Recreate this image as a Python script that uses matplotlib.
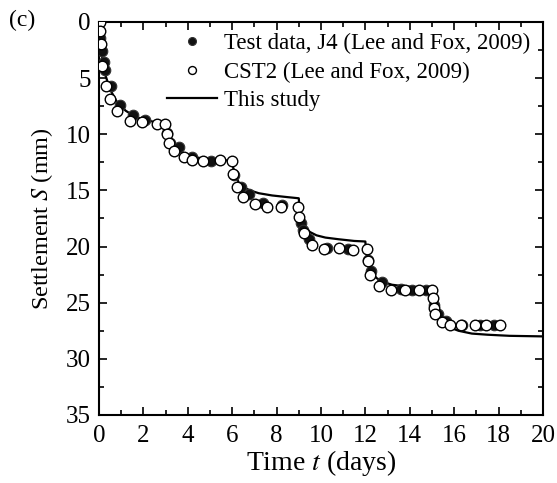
import numpy as np
import matplotlib
matplotlib.use("Agg")
import matplotlib.pyplot as plt
from matplotlib.ticker import MultipleLocator

plt.rcParams["font.family"] = ["Liberation Serif", "DejaVu Serif"]
plt.rcParams["mathtext.fontset"] = "stix"

# Test data, J4 (filled)
j4_t = [0.05, 0.13, 0.24, 0.29, 0.53, 0.96, 1.52, 2.08, 3.05, 3.2, 3.6, 4.17,
        5.05, 6.1, 6.4, 6.74, 7.38, 8.26, 9.11, 9.17, 9.46, 10.27, 11.2, 12.11,
        12.24, 12.75, 13.6, 14.1, 14.72, 15.08, 15.27, 15.64, 16.36, 17.16, 17.8]
j4_s = [1.4, 2.6, 3.6, 4.3, 5.7, 7.4, 8.3, 8.7, 9.9, 10.8, 11.1, 12.0,
        12.4, 13.65, 14.7, 15.3, 16.15, 16.3, 17.9, 18.5, 19.35, 20.15, 20.2, 21.2,
        22.2, 23.2, 23.8, 23.85, 23.85, 25.2, 26.0, 26.6, 26.95, 26.95, 27.0]

# CST2 (open)
cst_t = [0.05, 0.05, 0.08, 0.13, 0.32, 0.51, 0.83, 1.4, 1.92, 2.61, 2.97, 3.05,
         3.16, 3.4, 3.82, 4.17, 4.68, 5.45, 5.98, 6.06, 6.22, 6.5, 7.03, 7.57,
         8.18, 8.98, 9.03, 9.25, 9.59, 10.14, 10.83, 11.44, 12.07, 12.14, 12.19,
         12.6, 13.15, 13.8, 14.4, 15.0, 15.03, 15.08, 15.15, 15.45, 15.8, 16.3,
         16.95, 17.43, 18.05]
cst_s = [0.0, 0.8, 2.0, 3.9, 5.7, 6.9, 7.9, 8.8, 8.9, 9.1, 9.1, 9.95,
         10.8, 11.5, 12.0, 12.3, 12.4, 12.3, 12.4, 13.5, 14.7, 15.6, 16.2, 16.45,
         16.45, 16.5, 17.4, 18.8, 19.85, 20.2, 20.15, 20.35, 20.2, 21.3, 22.5,
         23.5, 23.9, 23.9, 23.9, 23.85, 24.6, 25.5, 26.0, 26.7, 26.95, 26.95,
         26.95, 26.95, 26.95]

# This study (model)
model_t = [0.0, 0.05, 0.1, 0.2, 0.3, 0.5, 0.8, 1.2, 1.6, 2.0, 2.5, 3.0,
           3.05, 3.15, 3.3, 3.5, 3.8, 4.2, 4.8, 5.5, 6.0,
           6.05, 6.15, 6.3, 6.5, 6.8, 7.2, 7.8, 8.5, 9.0,
           9.05, 9.15, 9.3, 9.5, 9.8, 10.2, 10.8, 11.5, 12.0,
           12.05, 12.15, 12.3, 12.5, 12.8, 13.2, 13.8, 14.5, 15.0,
           15.05, 15.15, 15.3, 15.5, 15.8, 16.2, 16.8, 17.5, 18.5, 20.0]
model_s = [0.0, 1.5, 2.6, 3.9, 4.8, 6.0, 7.1, 7.9, 8.4, 8.7, 8.9, 9.1,
           9.7, 10.4, 10.9, 11.3, 11.7, 12.0, 12.2, 12.3, 12.35,
           13.0, 13.7, 14.3, 14.7, 15.0, 15.25, 15.45, 15.6, 15.7,
           16.8, 17.7, 18.3, 18.7, 19.0, 19.2, 19.35, 19.5, 19.55,
           20.7, 21.6, 22.3, 22.8, 23.15, 23.4, 23.55, 23.65, 23.7,
           24.9, 25.7, 26.3, 26.8, 27.2, 27.5, 27.75, 27.85, 27.95, 28.0]

fig = plt.figure(figsize=(5.57, 4.83), dpi=100)
ax = fig.add_axes([0.1777, 0.1408, 0.797, 0.8137])

ax.plot(model_t, model_s, color="black", lw=1.6, label="This study", zorder=2)
ax.plot(j4_t, j4_s, "o", ms=7.6, mfc="#111111", mec="#333333", mew=0.8,
        ls="none", label="Test data, J4 (Lee and Fox, 2009)", zorder=3)
ax.plot(cst_t, cst_s, "o", ms=7.6, mfc="white", mec="black", mew=1.0,
        ls="none", label="CST2 (Lee and Fox, 2009)", zorder=4)

ax.set_xlim(0, 20)
ax.set_ylim(35, 0)
ax.xaxis.set_major_locator(MultipleLocator(2))
ax.xaxis.set_minor_locator(MultipleLocator(1))
ax.yaxis.set_major_locator(MultipleLocator(5))
ax.yaxis.set_minor_locator(MultipleLocator(2.5))
ax.tick_params(which="both", direction="in", top=True, right=True, width=1.2,
               labelsize=18)
ax.tick_params(which="major", length=6)
ax.tick_params(which="minor", length=3.5)
ax.tick_params(axis="x", which="major", pad=7)
ax.tick_params(axis="y", which="major", pad=6)
for sp in ax.spines.values():
    sp.set_linewidth(1.5)

ax.set_xlabel(r"Time $t$ (days)", fontsize=20, labelpad=1)
ax.set_ylabel(r"Settlement $S$ (mm)", fontsize=17.5, labelpad=8)

h, l = ax.get_legend_handles_labels()
order = [1, 2, 0]
ax.legend([h[i] for i in order], [l[i] for i in order], loc="upper left",
          bbox_to_anchor=(0.153, 0.972), frameon=False, fontsize=16.5,
          handlelength=2.2, handletextpad=0.3, labelspacing=0.33,
          borderaxespad=0.0, borderpad=0.0, markerscale=0.75)

fig.text(0.04, 0.958, "(c)", fontsize=17, ha="center", va="center")

fig.savefig("out.png", dpi=100)
